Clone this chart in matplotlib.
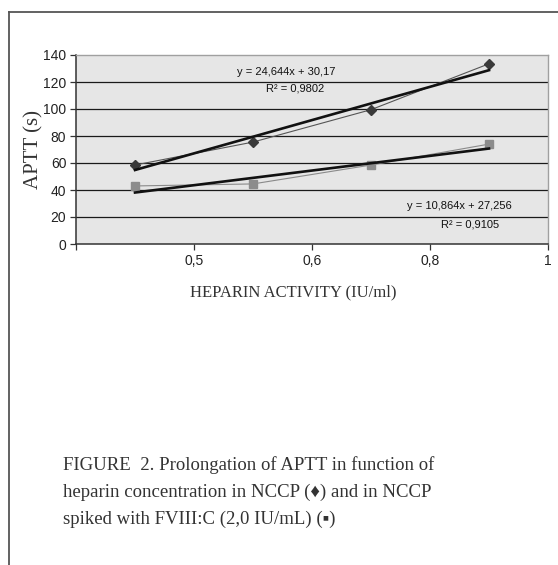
import matplotlib
matplotlib.use("Agg")
import matplotlib.pyplot as plt
from matplotlib.lines import Line2D
import numpy as np

# category positions used by the spreadsheet trendlines (1..4)
categories = [1, 2, 3, 4]
nccp = [58.5, 75.5, 99.5, 133.5]          # diamonds
nccp_fviii = [43.0, 44.5, 58.5, 74.0]     # squares

# trendline coefficients as printed on the chart
fit_nccp = (24.644, 30.17)
fit_fviii = (10.864, 27.256)

xtick_labels = ["0,5", "0,6", "0,8", "1"]
yticks = [0, 20, 40, 60, 80, 100, 120, 140]

W, H = 558, 565
fig = plt.figure(figsize=(W / 100, H / 100), dpi=100)
fig.patch.set_facecolor("white")

# plot area in pixels: left 76, right 548, top 55, bottom 244
ax = fig.add_axes([76 / W, 1 - 244 / H, (548 - 76) / W, (244 - 55) / H])
ax.set_facecolor("#e6e6e6")

x = np.array(categories, dtype=float)
for yv in yticks[1:-1]:
    ax.axhline(yv, color="#1a1a1a", linewidth=0.9, zorder=1)

ax.plot(x, nccp, color="#555555", linewidth=0.8, marker="D", markersize=5,
        markerfacecolor="#3a3a3a", markeredgecolor="#3a3a3a", zorder=3)
ax.plot(x, nccp_fviii, color="#8a8a8a", linewidth=0.8, marker="s", markersize=6,
        markerfacecolor="#8c8c8c", markeredgecolor="#8c8c8c", zorder=3)

xf = np.array([categories[0], categories[-1]], dtype=float)
ax.plot(xf, fit_nccp[0] * xf + fit_nccp[1], color="#111111", linewidth=1.9, zorder=4)
ax.plot(xf, fit_fviii[0] * xf + fit_fviii[1], color="#111111", linewidth=1.9, zorder=4)

ax.set_xlim(categories[0] - 0.5, categories[-1] + 0.5)
ax.set_ylim(0, 140)
ax.set_yticks(yticks)
ax.set_yticklabels([str(v) for v in yticks], fontsize=10, family="Liberation Sans", color="#222222")
xt = [c + 0.5 for c in categories]
ax.set_xticks([categories[0] - 0.5] + xt)
ax.set_xticklabels([""] + xtick_labels, fontsize=10, family="Liberation Sans", color="#222222")
ax.tick_params(axis="both", direction="out", length=4, width=0.9, color="#333333", pad=3)

for side in ["top", "right"]:
    ax.spines[side].set_color("#a0a0a0")
    ax.spines[side].set_linewidth(1.0)
for side in ["left", "bottom"]:
    ax.spines[side].set_color("#333333")
    ax.spines[side].set_linewidth(1.1)

ax.set_ylabel("APTT (s)", fontsize=15, family="Liberation Serif", color="#333333", labelpad=0)

# trendline equations
ax.text(2.28, 127.5, "y = 24,644x + 30,17", fontsize=8, family="Liberation Sans",
        ha="center", va="center", color="#111111")
ax.text(2.36, 115, "R² = 0,9802", fontsize=8, family="Liberation Sans",
        ha="center", va="center", color="#111111")
ax.text(3.75, 28.2, "y = 10,864x + 27,256", fontsize=8, family="Liberation Sans",
        ha="center", va="center", color="#111111")
ax.text(3.84, 14.8, "R² = 0,9105", fontsize=8, family="Liberation Sans",
        ha="center", va="center", color="#111111")

fig.text(293 / W, 1 - 292 / H, "HEPARIN ACTIVITY (IU/ml)", fontsize=12,
         family="Liberation Serif", ha="center", va="center", color="#333333")

caption = ("FIGURE  2. Prolongation of APTT in function of\n"
           "heparin concentration in NCCP (\u2666) and in NCCP\n"
           "spiked with FVIII:C (2,0 IU/mL) (\u25aa)")
fig.text(63 / W, 1 - 456 / H, caption, fontsize=13.5, family=["Liberation Serif", "DejaVu Serif"],
         ha="left", va="top", color="#333333", linespacing=1.72)

# page frame
fig.add_artist(Line2D([9 / W, 1], [1 - 12 / H, 1 - 12 / H], transform=fig.transFigure,
                      color="#555555", linewidth=1.3))
fig.add_artist(Line2D([9 / W, 9 / W], [0, 1 - 12 / H], transform=fig.transFigure,
                      color="#555555", linewidth=1.3))

fig.savefig("out.png", dpi=100)
